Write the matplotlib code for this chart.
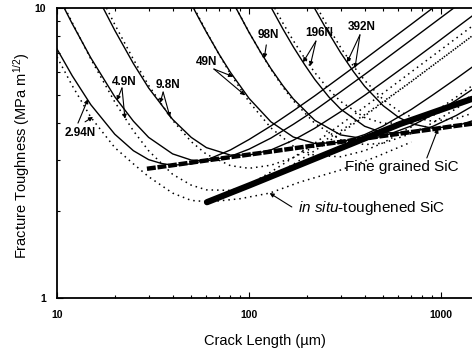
import matplotlib
matplotlib.use('Agg')
import matplotlib.pyplot as plt
from matplotlib.ticker import LogLocator, NullFormatter

plt.rcParams['font.family'] = ['Liberation Sans', 'DejaVu Sans']
plt.rcParams['mathtext.fontset'] = 'custom'
plt.rcParams['mathtext.rm'] = 'Liberation Sans'
plt.rcParams['mathtext.it'] = 'Liberation Sans:italic'

# applied K curves, fine grained SiC (solid), crack length in um, K in MPa m^1/2
c_s294 = [10, 12, 15, 20, 25, 30, 35, 40, 50, 60, 80, 100, 130, 170, 220, 300, 400, 500, 700, 900]
k_s294 = [7.22, 5.84, 4.64, 3.67, 3.22, 3.00, 2.91, 2.87, 2.90, 2.99, 3.24, 3.52, 3.92, 4.42, 4.98, 5.79, 6.66, 7.44, 8.79, 9.97]
c_s49 = [10.9, 12, 15, 20, 25, 30, 40, 50, 60, 80, 100, 130, 170, 220, 300, 400, 500, 700, 900, 1165]
k_s49 = [10.0, 8.83, 6.73, 4.94, 4.07, 3.58, 3.14, 2.99, 2.97, 3.08, 3.26, 3.56, 3.97, 4.44, 5.14, 5.90, 6.58, 7.77, 8.80, 10.0]
c_s98 = [17.4, 20, 25, 30, 40, 50, 60, 80, 100, 130, 170, 220, 300, 400, 500, 700, 900, 1200, 1450]
k_s98 = [10.0, 8.37, 6.43, 5.30, 4.13, 3.58, 3.30, 3.11, 3.11, 3.24, 3.50, 3.85, 4.39, 5.00, 5.56, 6.54, 7.40, 8.54, 9.38]
c_s490 = [51.5, 55, 60, 70, 80, 100, 130, 170, 220, 300, 400, 500, 700, 900, 1200, 1450]
k_s490 = [9.96, 9.17, 8.25, 6.91, 6.00, 4.88, 4.05, 3.59, 3.41, 3.44, 3.66, 3.92, 4.47, 5.00, 5.71, 6.25]
c_s980 = [85.5, 100, 115, 130, 150, 170, 220, 300, 400, 500, 700, 900, 1200, 1450]
k_s980 = [10.0, 8.24, 7.03, 6.18, 5.40, 4.86, 4.10, 3.65, 3.54, 3.61, 3.92, 4.28, 4.81, 5.23]
c_s196 = [131, 150, 170, 195, 220, 260, 300, 400, 500, 700, 900, 1200, 1450]
k_s196 = [9.98, 8.47, 7.35, 6.37, 5.67, 4.94, 4.48, 3.91, 3.71, 3.72, 3.90, 4.26, 4.58]
c_s392 = [219, 250, 300, 350, 400, 500, 600, 700, 900, 1200, 1450]
k_s392 = [10.0, 8.56, 7.01, 6.03, 5.37, 4.60, 4.20, 3.99, 3.85, 3.92, 4.08]

# applied K curves, in situ-toughened SiC (dotted)
c_d294 = [10, 12, 15, 20, 25, 30, 40, 50, 60, 80, 100, 130, 170, 220, 300, 400, 500, 700, 900, 1200, 1450]
k_d294 = [6.78, 5.40, 4.20, 3.30, 2.90, 2.62, 2.30, 2.17, 2.15, 2.29, 2.46, 2.72, 3.05, 3.42, 3.97, 4.56, 5.09, 6.02, 6.82, 7.87, 8.65]
c_d49 = [11, 12, 15, 20, 25, 30, 40, 50, 60, 80, 100, 130, 170, 220, 300, 400, 500, 700, 900, 1200, 1450]
k_d49 = [10.0, 8.91, 6.67, 4.74, 3.77, 3.22, 2.67, 2.45, 2.36, 2.35, 2.44, 2.62, 2.89, 3.22, 3.70, 4.24, 4.73, 5.57, 6.31, 7.28, 8.00]
c_d98 = [18.1, 20, 25, 30, 40, 50, 60, 80, 100, 130, 170, 220, 300, 400, 500, 700, 900, 1200, 1450]
k_d98 = [10.0, 8.77, 6.65, 5.41, 4.10, 3.46, 3.13, 2.86, 2.80, 2.87, 3.05, 3.33, 3.77, 4.29, 4.76, 5.59, 6.33, 7.29, 8.01]
c_d490 = [51.8, 55, 60, 70, 80, 100, 130, 170, 220, 300, 400, 500, 700, 900, 1200, 1450]
k_d490 = [10.0, 9.25, 8.29, 6.89, 5.93, 4.75, 3.86, 3.34, 3.10, 3.07, 3.22, 3.43, 3.89, 4.32, 4.93, 5.39]
c_d980 = [85.6, 100, 115, 130, 150, 170, 220, 300, 400, 500, 700, 900, 1200, 1450]
k_d980 = [10.0, 8.25, 7.02, 6.15, 5.34, 4.79, 4.00, 3.51, 3.38, 3.42, 3.69, 4.01, 4.50, 4.89]
c_d196 = [136, 150, 170, 195, 220, 260, 300, 400, 500, 700, 900, 1200, 1450]
k_d196 = [10.0, 8.88, 7.72, 6.70, 5.99, 5.24, 4.76, 4.19, 4.00, 4.04, 4.25, 4.65, 5.00]
c_d392 = [227, 250, 300, 350, 400, 500, 600, 700, 900, 1200, 1450]
k_d392 = [10.0, 8.92, 7.31, 6.30, 5.63, 4.83, 4.42, 4.21, 4.07, 4.16, 4.33]

# R-curves
fg_c = [29.4, 40, 55.6, 80, 114, 170, 234, 350, 481, 650, 877, 1150, 1449]
fg_k = [2.79, 2.87, 2.96, 3.06, 3.16, 3.28, 3.38, 3.50, 3.61, 3.71, 3.81, 3.91, 3.99]
is_c = [60.4, 101, 184, 298, 611, 1449]
is_k = [2.14, 2.45, 2.88, 3.28, 3.98, 4.86]
isd_c = [60, 90, 128, 184, 298, 450, 700]
isd_k = [2.14, 2.20, 2.30, 2.51, 2.76, 3.05, 3.45]

fig = plt.figure(figsize=(4.72, 3.55), dpi=100)
ax = fig.add_axes([57 / 472, 1 - 298 / 355, 1 - 57 / 472, 290 / 355])

dot = (0, (1, 2.6))
for c, k in [(c_s294, k_s294), (c_s49, k_s49), (c_s98, k_s98), (c_s490, k_s490),
             (c_s980, k_s980), (c_s196, k_s196), (c_s392, k_s392)]:
    ax.plot(c, k, color='black', lw=1.0)
for c, k in [(c_d294, k_d294), (c_d49, k_d49), (c_d98, k_d98), (c_d490, k_d490),
             (c_d980, k_d980), (c_d196, k_d196), (c_d392, k_d392), (isd_c, isd_k)]:
    ax.plot(c, k, color='black', lw=1.1, linestyle=dot)

ax.plot(fg_c, fg_k, color='black', lw=3.2, linestyle=(0, (2.0, 0.4)))
ax.plot(is_c, is_k, color='black', lw=4.5, solid_capstyle='round')

ax.set_xscale('log')
ax.set_yscale('log')
ax.set_xlim(10, 1449)
ax.set_ylim(1, 10)
ax.set_xticks([10, 100, 1000], labels=['10', '100', '1000'], fontweight='bold')
ax.set_yticks([1, 10], labels=['1', '10'], fontweight='bold')
ax.xaxis.set_minor_locator(LogLocator(base=10, subs=range(2, 10)))
ax.yaxis.set_minor_locator(LogLocator(base=10, subs=range(2, 10)))
ax.xaxis.set_minor_formatter(NullFormatter())
ax.yaxis.set_minor_formatter(NullFormatter())
ax.tick_params(which='both', direction='in', top=True, right=False, labelsize=7.5, width=0.8)
ax.tick_params(which='major', length=4)
ax.tick_params(which='minor', length=2.2)
ax.tick_params(axis='x', pad=9)
ax.tick_params(axis='y', pad=8)
ax.spines['right'].set_visible(False)
for s in ['left', 'bottom', 'top']:
    ax.spines[s].set_linewidth(1.3)

ax.set_xlabel('Crack Length (\u00b5m)', fontsize=10.5)
ax.set_ylabel('Fracture Toughness (MPa m$^{1/2}$)', fontsize=10.5)
ax.xaxis.set_label_coords(0.5, -0.125)
ax.yaxis.set_label_coords(-0.06, 0.49)

arrow = dict(arrowstyle='-|>', lw=0.8, color='black', mutation_scale=6, shrinkA=0, shrinkB=0)
lab = dict(fontsize=8.5, fontweight='bold', ha='center', va='center')

ax.text(13.2, 3.70, '2.94N', **lab)
ax.annotate('', xy=(14.5, 4.85), xytext=(12.86, 4.01), arrowprops=arrow)
ax.annotate('', xy=(15.4, 4.21), xytext=(14.0, 4.05), arrowprops=arrow)

ax.text(22.3, 5.56, '4.9N', **lab)
ax.annotate('', xy=(20.5, 4.8), xytext=(21.8, 5.3), arrowprops=arrow)
ax.annotate('', xy=(22.6, 4.15), xytext=(21.8, 5.3), arrowprops=arrow)

ax.text(37.9, 5.43, '9.8N', **lab)
ax.annotate('', xy=(34.4, 4.7), xytext=(35.7, 5.13), arrowprops=arrow)
ax.annotate('', xy=(38.8, 4.2), xytext=(35.7, 5.13), arrowprops=arrow)

ax.text(60.4, 6.52, '49N', **lab)
ax.annotate('', xy=(82.6, 5.8), xytext=(65.6, 6.16), arrowprops=arrow)
ax.annotate('', xy=(95.3, 5.0), xytext=(65.6, 6.16), arrowprops=arrow)

ax.text(125.5, 8.08, '98N', **lab)
ax.annotate('', xy=(120, 6.7), xytext=(123, 7.46), arrowprops=arrow)

ax.text(231, 8.22, '196N', **lab)
ax.annotate('', xy=(191, 6.5), xytext=(223, 7.69), arrowprops=arrow)
ax.annotate('', xy=(208, 6.3), xytext=(223, 7.69), arrowprops=arrow)

ax.text(388, 8.60, '392N', **lab)
ax.annotate('', xy=(324, 6.5), xytext=(378, 8.08), arrowprops=arrow)
ax.annotate('', xy=(356, 6.2), xytext=(378, 8.08), arrowprops=arrow)

ax.text(316, 2.83, 'Fine grained SiC', fontsize=11, ha='left', va='center')
ax.annotate('', xy=(965, 3.84), xytext=(843, 3.04), arrowprops=arrow)

ax.text(180, 2.04, r'$\mathit{in\ situ}$-toughened SiC', fontsize=11, ha='left', va='center')
ax.annotate('', xy=(128, 2.30), xytext=(167, 2.06), arrowprops=arrow)

fig.savefig('out.png', dpi=100)
